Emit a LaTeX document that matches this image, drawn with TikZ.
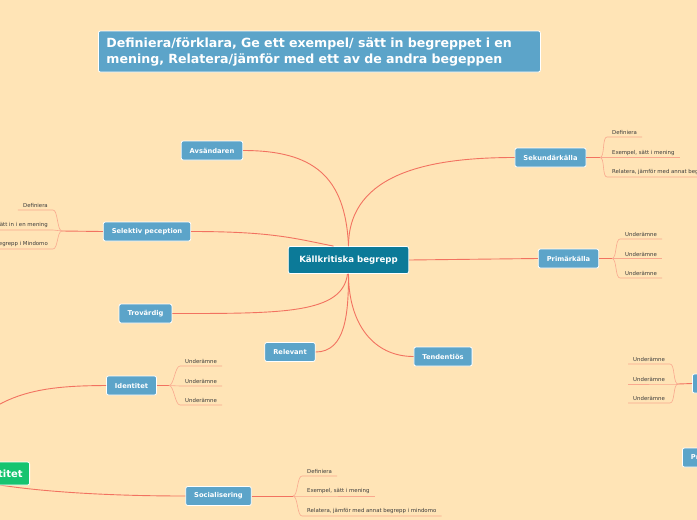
\documentclass[tikz,border=0pt]{standalone}
\usepackage{fontspec}
\setmainfont{DejaVu Sans}
\definecolor{bgpeach}{RGB}{255,228,182}
\definecolor{topicblue}{RGB}{92,164,201}
\definecolor{centerteal}{RGB}{12,122,152}
\definecolor{maingreen}{RGB}{22,196,112}
\definecolor{branchred}{RGB}{242,114,96}
\definecolor{twigred}{RGB}{249,168,142}
\definecolor{leafgray}{RGB}{60,60,60}
\tikzset{
  topic/.style={rectangle,rounded corners=2pt,draw=white,line width=0.8pt,fill=topicblue,text=white,
    font=\bfseries\fontsize{6.7}{8}\selectfont,inner xsep=8.5pt,minimum height=19pt},
  branch/.style={draw=branchred,line width=0.9pt},
  twig/.style={draw=twigred,line width=0.6pt},
  leaf/.style={font=\fontsize{5.4}{6}\selectfont,text=leafgray,inner xsep=5pt,inner ysep=1.8pt},
}
\begin{document}
\begin{tikzpicture}[x=1pt,y=-1pt]
\fill[bgpeach] (0,0) rectangle (697,520);
\useasboundingbox (0,0) rectangle (697,520);

% title
\node[rectangle,rounded corners=2pt,draw=white,line width=0.8pt,fill=topicblue,text=white,anchor=west,
  font=\bfseries\fontsize{12.6}{16}\selectfont,align=left,text width=426pt,inner xsep=8pt,minimum height=41pt]
  (title) at (98,51.5) {Definiera/förklara, Ge ett exempel/ sätt in begreppet i en\\mening, Relatera/jämför med ett av de andra begeppen};

% central topic
\node[topic,fill=centerteal,font=\bfseries\fontsize{8.6}{10}\selectfont,inner xsep=11pt,minimum height=27pt]
  (k) at (348.5,260) {Källkritiska begrepp};

\node[topic] (avs) at (212,150.5) {Avsändaren};
\node[topic] (sel) at (147,231.5) {Selektiv peception};
\node[topic] (tro) at (145.5,313.5) {Trovärdig};
\node[topic] (rel) at (290,352) {Relevant};
\node[topic] (ten) at (443,356.5) {Tendentiös};
\node[topic] (pri) at (568.5,258.5) {Primärkälla};
\node[topic] (sek) at (550.5,157.5) {Sekundärkälla};
\node[topic] (id) at (131.5,385.5) {Identitet};
\node[topic] (soc) at (218.5,496) {Socialisering};
\node[topic,anchor=west,minimum width=50pt] (rb1) at (692,383.5) {};
\node[topic,anchor=west] (rb2) at (682,457.5) {Propaganda};

% branches from the central topic
\draw[branch] (k.north) .. controls +(0,-75) and +(-80,0) .. (sek.west);
\draw[branch] (k.north) .. controls +(-3,-70) and +(70,0) .. (avs.east);
\draw[branch] (sel.east) .. controls +(80,0) and +(-40,-8) .. ([xshift=-15pt]k.north);
\draw[branch] (tro.east) .. controls +(110,0) and +(-5,40) .. ([xshift=-1pt]k.south);
\draw[branch] (rel.east) .. controls +(30,0) and +(0,40) .. (k.south);
\draw[branch] (k.south) .. controls +(0,50) and +(-40,0) .. (ten.west);
\draw[branch] (k.east) -- (pri.west);

% branches from the green topic
\coordinate (hub) at (-60,470);
\draw[branch] (hub) .. controls (-20,390) and (40,386) .. (id.west);
\draw[branch] (hub) .. controls (-20,488) and (80,496) .. (soc.west);
\node[topic,fill=maingreen,font=\bfseries\fontsize{10}{12}\selectfont,inner xsep=7pt,minimum height=23pt,anchor=east]
  (gr) at (30,473.5) {Identitet};

% sub topics
\coordinate (fk) at (600,157.5);
\draw[branch] (sek.east) -- (fk);
\foreach \i/\y/\t in {0/137/Definiera, 1/157.5/{Exempel, sätt i mening}, 2/177/{Relatera, jämför med annat begrepp i mindomo}}
{
  \node[leaf,anchor=south west] (k\i) at (607,\y) {\t};
  \draw[twig] (fk) .. controls +(5,0) and +(-5,0) .. (k\i.south west) -- (k\i.south east);
}

\coordinate (fp) at (612,258.5);
\draw[branch] (pri.east) -- (fp);
\foreach \i/\y in {0/239,1/258.5,2/278}
{
  \node[leaf,anchor=south west] (p\i) at (620,\y) {Underämne};
  \draw[twig] (fp) .. controls +(5,0) and +(-5,0) .. (p\i.south west) -- (p\i.south east);
}

\coordinate (fi) at (169,385.5);
\draw[branch] (id.east) -- (fi);
\foreach \i/\y in {0/366,1/386,2/405}
{
  \node[leaf,anchor=south west] (i\i) at (180,\y) {Underämne};
  \draw[twig] (fi) .. controls +(5,0) and +(-5,0) .. (i\i.south west) -- (i\i.south east);
}

\coordinate (fo) at (293,496);
\draw[branch] (soc.east) -- (fo);
\foreach \i/\y/\t in {0/476/Definiera, 1/496/{Exempel, sätt i mening}, 2/516/{Relatera, jämför med annat begrepp i mindomo}}
{
  \node[leaf,anchor=south west] (o\i) at (302,\y) {\t};
  \draw[twig] (fo) .. controls +(5,0) and +(-5,0) .. (o\i.south west) -- (o\i.south east);
}

\coordinate (fs) at (62,231);
\draw[branch] (sel.west) -- (fs);
\foreach \i/\y/\t in {0/210/Definiera, 1/230/{Exempel, sätt in i en mening}, 2/249/{Relatera, jämför med annat begrepp i Mindomo}}
{
  \node[leaf,anchor=south east] (s\i) at (53,\y) {\t};
  \draw[twig] (s\i.south west) -- (s\i.south east) .. controls +(5,0) and +(-5,0) .. (fs);
}

\coordinate (fr) at (678,384);
\draw[branch] (rb1.west) -- (fr);
\foreach \i/\y in {0/364,1/384,2/403}
{
  \node[leaf,anchor=south west] (r\i) at (628,\y) {Underämne};
  \draw[twig] (r\i.south west) -- (r\i.south east) .. controls +(5,0) and +(-5,0) .. (fr);
}
\end{tikzpicture}
\end{document}
